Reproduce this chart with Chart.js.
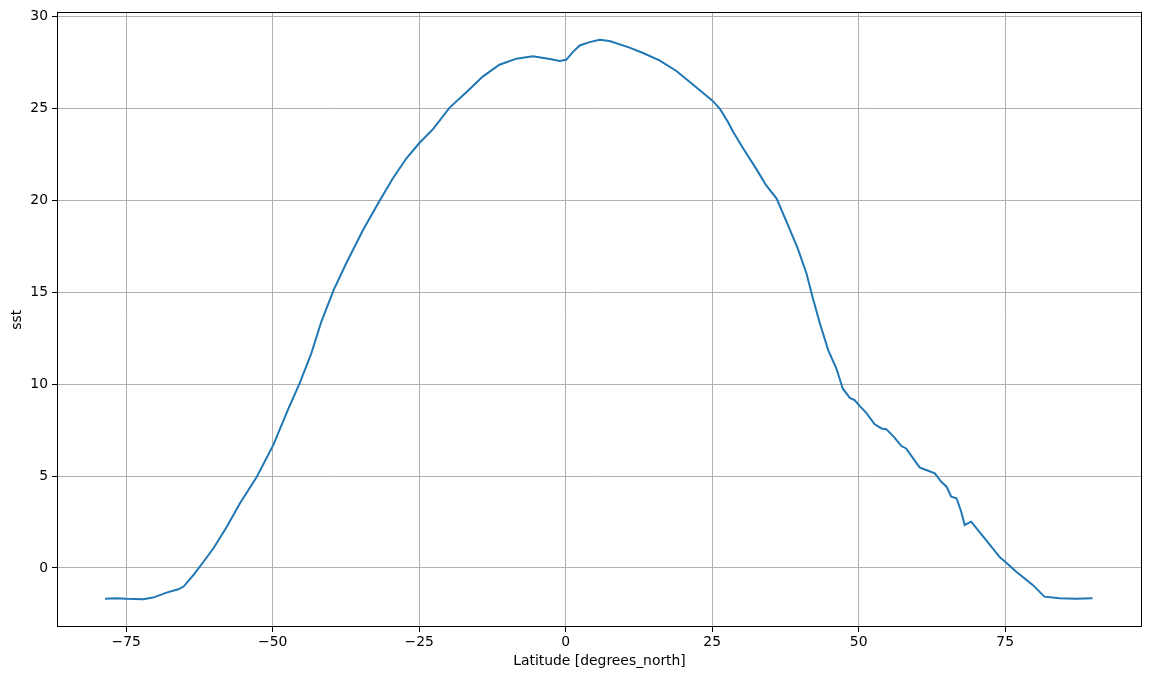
<!DOCTYPE html>
<html>
<head>
<meta charset="utf-8">
<title>sst vs latitude</title>
<script src="https://cdn.jsdelivr.net/npm/chart.js"></script>
<style>
  html, body { margin: 0; padding: 0; background: #ffffff; }
  #wrap { width: 1152px; height: 681px; position: relative; }
</style>
</head>
<body>
<div id="wrap"><canvas id="chart"></canvas></div>
<script>
// Zonal mean sea surface temperature
const latitude = [
  -78.6, -76.6, -75.0, -72.1, -70.4, -68.1, -66.1, -65.2, -63.5, -61.8,
  -60.1, -57.8, -55.6, -52.7, -49.9, -47.4, -45.4, -43.4, -41.7, -39.6,
  -37.4, -34.6, -31.7, -29.5, -27.2, -25.0, -22.6, -19.8, -16.9, -14.1,
  -11.3, -8.4, -5.6, -2.7, -1.0, 0.1, 1.25, 2.4, 4.1, 5.8,
  7.5, 10.9, 13.2, 16.0, 18.9, 22.9, 25.0, 26.3, 27.7, 28.6,
  30.3, 32.5, 34.2, 36.0, 37.7, 39.6, 41.1, 42.2, 43.3, 44.8,
  46.2, 47.3, 48.5, 49.3, 50.2, 51.3, 52.7, 53.9, 54.7, 55.9,
  57.3, 58.1, 59.3, 60.4, 61.5, 63.0, 64.1, 65.0, 65.8, 66.7,
  67.5, 68.1, 69.2, 70.6, 72.4, 74.1, 75.2, 76.9, 79.7, 81.7,
  84.3, 87.1, 89.9
];
const sst = [
  -1.68, -1.65, -1.68, -1.70, -1.61, -1.34, -1.16, -1.01, -0.38, 0.34,
  1.07, 2.25, 3.51, 4.96, 6.68, 8.60, 10.04, 11.67, 13.39, 15.11,
  16.60, 18.37, 20.00, 21.18, 22.27, 23.10, 23.88, 25.04, 25.89, 26.74,
  27.37, 27.70, 27.83, 27.68, 27.57, 27.64, 28.07, 28.42, 28.60, 28.73,
  28.66, 28.30, 28.01, 27.61, 27.03, 25.98, 25.43, 24.98, 24.26, 23.71,
  22.81, 21.72, 20.82, 20.09, 18.82, 17.38, 16.02, 14.66, 13.39, 11.85,
  10.85, 9.75, 9.25, 9.13, 8.80, 8.44, 7.83, 7.59, 7.55, 7.17,
  6.63, 6.50, 5.96, 5.47, 5.33, 5.15, 4.69, 4.42, 3.88, 3.79,
  3.06, 2.34, 2.52, 1.97, 1.25, 0.58, 0.29, -0.20, -0.92, -1.56,
  -1.65, -1.67, -1.65
];
const xTicks = [-75, -50, -25, 0, 25, 50, 75];
const yTicks = [0, 5, 10, 15, 20, 25, 30];

const FONT = { family: 'DejaVu Sans', size: 13.9 };

// matplotlib style minus sign
const fmt = v => String(v).replace('-', '\u2212');

// draws the full black frame round the plot area
const frame = {
  id: 'frame',
  afterDatasetsDraw(chart) {
    const { ctx, chartArea: a } = chart;
    ctx.save();
    ctx.strokeStyle = '#000000';
    ctx.lineWidth = 1;
    ctx.strokeRect(Math.round(a.left) + 0.5, Math.round(a.top) + 0.5,
      Math.round(a.right - a.left) - 1, Math.round(a.bottom - a.top) - 1);
    ctx.restore();
  }
};

const points = latitude.map((lat, i) => ({ x: lat, y: sst[i] }));

new Chart(document.getElementById('chart'), {
  type: 'line',
  data: {
    datasets: [{
      label: 'sst',
      data: points,
      borderColor: '#1f77b4',
      borderWidth: 2,
      pointRadius: 0,
      tension: 0,
      fill: false
    }]
  },
  options: {
    responsive: true,
    maintainAspectRatio: false,
    animation: false,
    layout: { padding: { left: 0, right: 10, top: 12, bottom: 0 } },
    plugins: { legend: { display: false }, tooltip: { enabled: false } },
    scales: {
      x: {
        type: 'linear',
        min: -86.8,
        max: 98.35,
        afterBuildTicks: scale => { scale.ticks = xTicks.map(v => ({ value: v })); },
        afterFit: scale => { scale.height = 54; },
        grid: { color: '#b0b0b0', lineWidth: 1, tickColor: '#000000', tickLength: 5 },
        border: { display: false },
        ticks: { color: '#000000', font: FONT, padding: 2, maxRotation: 0, callback: v => fmt(v) },
        title: { display: true, text: 'Latitude [degrees_north]', color: '#000000', font: FONT, padding: { top: 2, bottom: 11 } }
      },
      y: {
        type: 'linear',
        min: -3.21,
        max: 30.22,
        afterBuildTicks: scale => { scale.ticks = yTicks.map(v => ({ value: v })); },
        afterFit: scale => { scale.width = 57; },
        grid: { color: '#b0b0b0', lineWidth: 1, tickColor: '#000000', tickLength: 5 },
        border: { display: false },
        ticks: { color: '#000000', font: FONT, padding: 4, callback: v => fmt(v) },
        title: { display: true, text: 'sst', color: '#000000', font: FONT, padding: { top: 9, bottom: 2 } }
      }
    }
  },
  plugins: [frame]
});
</script>
</body>
</html>
